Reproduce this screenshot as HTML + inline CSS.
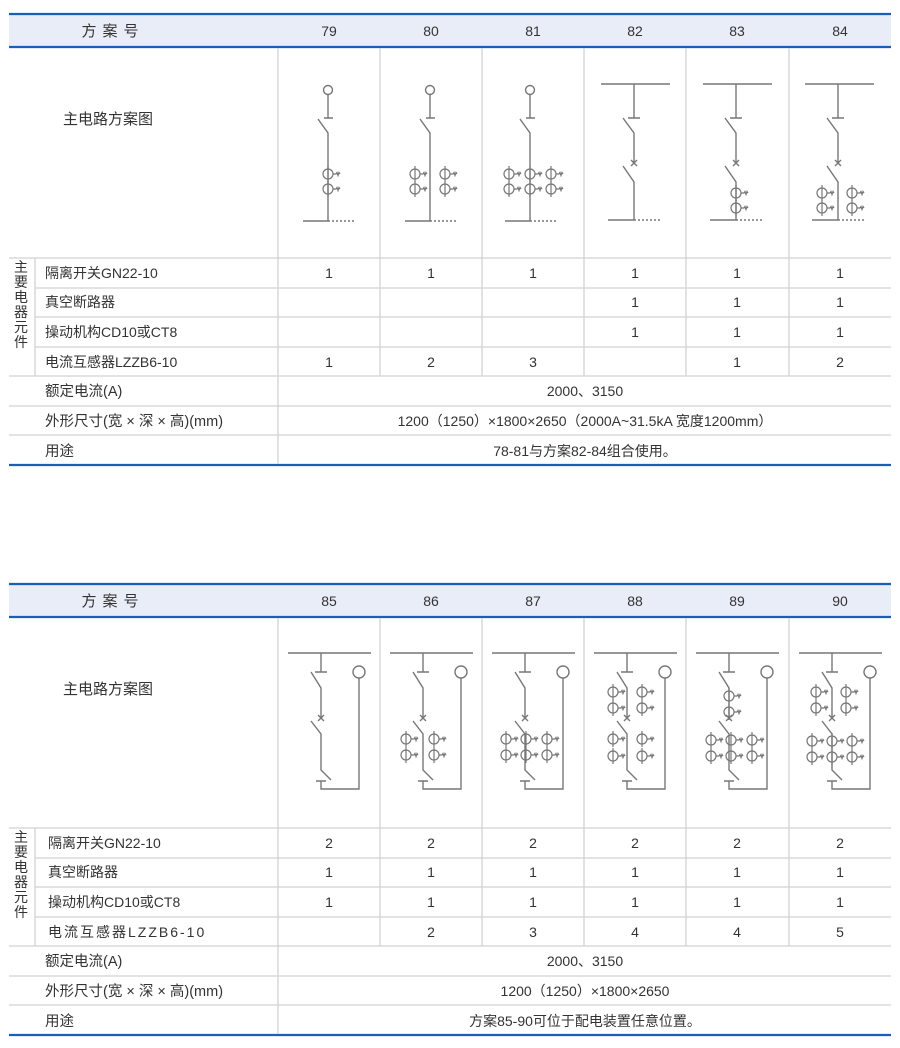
<!DOCTYPE html>
<html><head><meta charset="utf-8"><style>
html,body{margin:0;padding:0;background:#fff;}
svg{display:block;}
text{font-family:"Liberation Sans","Noto Sans CJK SC",sans-serif;fill:#333;font-size:14px;}
</style></head><body>
<svg width="900" height="1048" viewBox="0 0 900 1048" xmlns="http://www.w3.org/2000/svg">
<defs>
<g id="ct" fill="none" stroke="#777" stroke-width="1.2"><circle r="5"/><line x1="0" y1="-8" x2="0" y2="8"/><path d="M5 0 H8 l1 -1.5 l1 3 l1 -3 l1 1.5"/></g>
<g id="grid">
<rect x="9" y="14" width="882" height="33" fill="#e9edf7"/>
<line x1="9" y1="14" x2="891" y2="14" stroke="#1b5eb5" stroke-width="2.2"/>
<line x1="9" y1="47" x2="891" y2="47" stroke="#1b5eb5" stroke-width="2.2"/>
<line x1="9" y1="465" x2="891" y2="465" stroke="#1b5eb5" stroke-width="2.2"/>
<g stroke="#d2d2d2" stroke-width="1.3">
<line x1="9" y1="258" x2="891" y2="258"/>
<line x1="35" y1="288" x2="891" y2="288"/>
<line x1="35" y1="317" x2="891" y2="317"/>
<line x1="35" y1="347" x2="891" y2="347"/>
<line x1="9" y1="376" x2="891" y2="376"/>
<line x1="9" y1="406" x2="891" y2="406"/>
<line x1="9" y1="435" x2="891" y2="435"/>
<line x1="35" y1="258" x2="35" y2="376"/>
<line x1="278" y1="48" x2="278" y2="464"/>
<line x1="380" y1="48" x2="380" y2="376"/>
<line x1="482" y1="48" x2="482" y2="376"/>
<line x1="584" y1="48" x2="584" y2="376"/>
<line x1="686" y1="48" x2="686" y2="376"/>
<line x1="789" y1="48" x2="789" y2="376"/>
</g>
<text x="113" y="36" text-anchor="middle" style="font-size:15px;letter-spacing:6px">方案号</text>
<text x="63" y="124" style="font-size:15px">主电路方案图</text>
<g text-anchor="middle" style="font-size:15px">
<text x="21" y="272">主</text><text x="21" y="287">要</text><text x="21" y="302">电</text><text x="21" y="317">器</text><text x="21" y="332">元</text><text x="21" y="347">件</text>
</g>
<text x="45" y="396" style="font-size:14.5px">额定电流(A)</text>
<text x="45" y="426" style="font-size:14.5px">外形尺寸(宽 × 深 × 高)(mm)</text>
<text x="45" y="456" style="font-size:14.5px">用途</text>
</g>
</defs>

<use href="#grid"/>
<use href="#grid" y="570"/>

<g text-anchor="middle" style="font-size:14.5px">
<text x="329" y="36">79</text><text x="431" y="36">80</text><text x="533" y="36">81</text><text x="635" y="36">82</text><text x="737" y="36">83</text><text x="840" y="36">84</text>
<text x="329" y="278">1</text><text x="431" y="278">1</text><text x="533" y="278">1</text><text x="635" y="278">1</text><text x="737" y="278">1</text><text x="840" y="278">1</text>
<text x="635" y="307">1</text><text x="737" y="307">1</text><text x="840" y="307">1</text>
<text x="635" y="337">1</text><text x="737" y="337">1</text><text x="840" y="337">1</text>
<text x="329" y="367">1</text><text x="431" y="367">2</text><text x="533" y="367">3</text><text x="737" y="367">1</text><text x="840" y="367">2</text>
<text x="585" y="396">2000、3150</text>
<text x="585" y="426">1200（1250）×1800×2650（2000A~31.5kA  宽度1200mm）</text>
<text x="585" y="456">78-81与方案82-84组合使用。</text>
</g>
<g style="font-size:14.5px">
<text x="45" y="278">隔离开关GN22-10</text>
<text x="45" y="307">真空断路器</text>
<text x="45" y="337">操动机构CD10或CT8</text>
<text x="45" y="367">电流互感器LZZB6-10</text>
</g>

<g text-anchor="middle" style="font-size:14.5px">
<text x="329" y="606">85</text><text x="431" y="606">86</text><text x="533" y="606">87</text><text x="635" y="606">88</text><text x="737" y="606">89</text><text x="840" y="606">90</text>
<text x="329" y="848">2</text><text x="431" y="848">2</text><text x="533" y="848">2</text><text x="635" y="848">2</text><text x="737" y="848">2</text><text x="840" y="848">2</text>
<text x="329" y="877">1</text><text x="431" y="877">1</text><text x="533" y="877">1</text><text x="635" y="877">1</text><text x="737" y="877">1</text><text x="840" y="877">1</text>
<text x="329" y="907">1</text><text x="431" y="907">1</text><text x="533" y="907">1</text><text x="635" y="907">1</text><text x="737" y="907">1</text><text x="840" y="907">1</text>
<text x="431" y="937">2</text><text x="533" y="937">3</text><text x="635" y="937">4</text><text x="737" y="937">4</text><text x="840" y="937">5</text>
<text x="585" y="966">2000、3150</text>
<text x="585" y="996">1200（1250）×1800×2650</text>
<text x="585" y="1026">方案85-90可位于配电装置任意位置。</text>
</g>
<g style="font-size:14.5px">
<text x="48" y="848">隔离开关GN22-10</text>
<text x="48" y="877">真空断路器</text>
<text x="48" y="907">操动机构CD10或CT8</text>
<text x="48" y="937" style="letter-spacing:2px">电流互感器LZZB6-10</text>
</g>

<g fill="none" stroke="#777" stroke-width="1.4">
<g id="d79">
<circle cx="328" cy="90" r="4.5"/>
<path d="M328 94.5V118M324 118H333M318 119L328 133V221M303 221H328"/>
<path d="M328 221H356" stroke-dasharray="2 2"/>
</g>
<use href="#d79" x="102"/>
<use href="#d79" x="202"/>
<g id="d82">
<path d="M601 84H670M634 84V118M628 118H640M623 118L634 133V163M631 160L637 166M637 160L631 166M623 166L634 182V220M608 220H634"/>
<path d="M634 220H660" stroke-dasharray="2 2"/>
</g>
<use href="#d82" x="102"/>
<use href="#d82" x="204"/>
</g>
<use href="#ct" x="328" y="174"/><use href="#ct" x="328" y="189"/>
<use href="#ct" x="415" y="174"/><use href="#ct" x="415" y="189"/><use href="#ct" x="445" y="174"/><use href="#ct" x="445" y="189"/>
<use href="#ct" x="509" y="174"/><use href="#ct" x="509" y="189"/><use href="#ct" x="530" y="174"/><use href="#ct" x="530" y="189"/><use href="#ct" x="551" y="174"/><use href="#ct" x="551" y="189"/>
<use href="#ct" x="736" y="193"/><use href="#ct" x="736" y="208"/>
<use href="#ct" x="822" y="193"/><use href="#ct" x="822" y="208"/><use href="#ct" x="852" y="193"/><use href="#ct" x="852" y="208"/>

<g fill="none" stroke="#777" stroke-width="1.4">
<g id="d85">
<path d="M288 653H371M321 653V672M315 672H327M311 672L321 688V718M318 715L324 721M324 715L318 721M311 721L321 734V770L331 780M316 781H326M321 781V789H359V678"/>
<circle cx="359" cy="672" r="6"/>
</g>
<use href="#d85" x="102"/>
<use href="#d85" x="204"/>
<use href="#d85" x="306"/>
<use href="#d85" x="408"/>
<use href="#d85" x="511"/>
</g>
<use href="#ct" x="406" y="739"/><use href="#ct" x="406" y="755"/><use href="#ct" x="434" y="739"/><use href="#ct" x="434" y="755"/>
<use href="#ct" x="506" y="739"/><use href="#ct" x="506" y="755"/><use href="#ct" x="526" y="739"/><use href="#ct" x="526" y="755"/><use href="#ct" x="547" y="739"/><use href="#ct" x="547" y="755"/>
<use href="#ct" x="613" y="692"/><use href="#ct" x="613" y="708"/><use href="#ct" x="642" y="692"/><use href="#ct" x="642" y="708"/>
<use href="#ct" x="613" y="739"/><use href="#ct" x="613" y="756"/><use href="#ct" x="642" y="739"/><use href="#ct" x="642" y="756"/>
<use href="#ct" x="729" y="696"/><use href="#ct" x="729" y="712"/>
<use href="#ct" x="711" y="740"/><use href="#ct" x="711" y="756"/><use href="#ct" x="731" y="740"/><use href="#ct" x="731" y="756"/><use href="#ct" x="752" y="740"/><use href="#ct" x="752" y="756"/>
<use href="#ct" x="816" y="692"/><use href="#ct" x="816" y="708"/><use href="#ct" x="846" y="692"/><use href="#ct" x="846" y="708"/>
<use href="#ct" x="812" y="741"/><use href="#ct" x="812" y="757"/><use href="#ct" x="832" y="741"/><use href="#ct" x="832" y="757"/><use href="#ct" x="852" y="741"/><use href="#ct" x="852" y="757"/>
</svg>
</body></html>
